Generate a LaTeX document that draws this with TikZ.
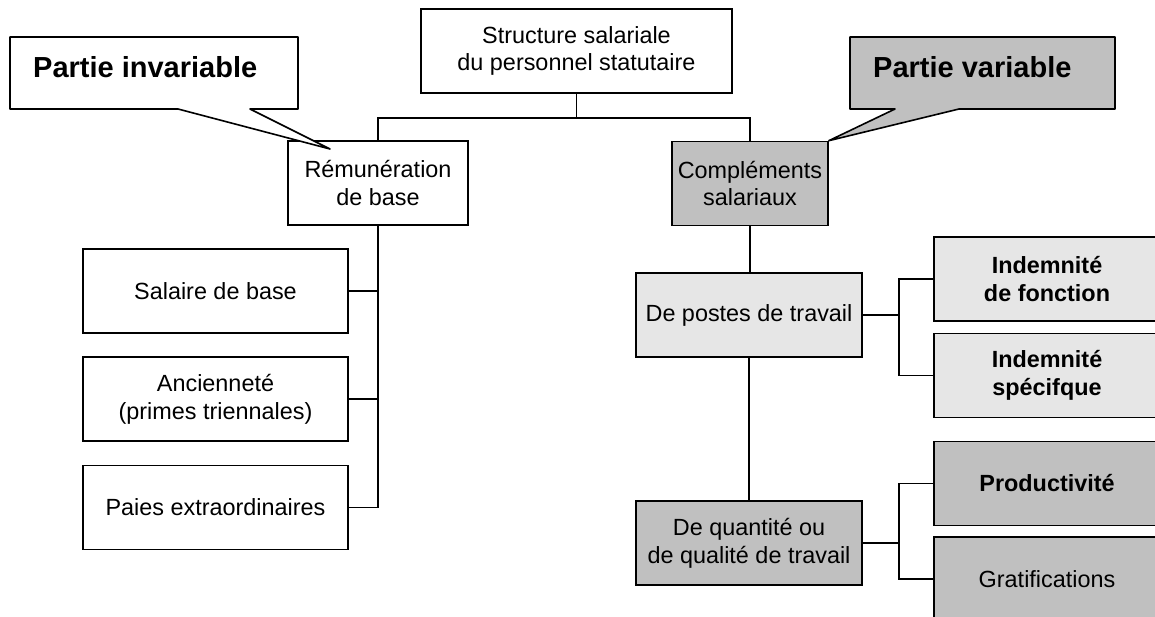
\documentclass[tikz,border=0pt]{standalone}
\usepackage{fontspec}
\setmainfont{Liberation Sans}
\usetikzlibrary{calc}
\definecolor{lgray}{HTML}{E6E6E6}
\definecolor{dgray}{HTML}{C0C0C0}
\begin{document}
\begin{tikzpicture}[x=1pt,y=-1pt,
  box/.style={draw, line width=1.6pt, rectangle, inner sep=0pt, align=center,
    font=\fontsize{23.4}{27.7}\selectfont, minimum height=84pt},
  wbox/.style={box, fill=white},
  lbox/.style={box, fill=lgray},
  dbox/.style={box, fill=dgray},
  bt/.style={font=\fontsize{23.4}{27.7}\selectfont\bfseries},
  link/.style={line width=1.6pt},
  stub/.style={line width=2.4pt},
  co/.style={draw, line width=1.6pt, line join=round},
  cotext/.style={font=\fontsize{29}{34}\selectfont\bfseries, anchor=base west, inner sep=0pt}]
\useasboundingbox (0,0) rectangle (1155,617);
\clip (0,0) rectangle (1155,617);

% top level
\node[wbox, minimum width=311pt] (top) at (576.5,51) {Structure salariale\\du personnel statutaire};
\node[wbox, minimum width=180pt] (rem) at (378,183) {Rémunération\\de base};
\node[dbox, minimum width=156pt] (comp) at (750,183.5) {Compléments\\salariaux};

% left column
\node[wbox, minimum width=265pt] (sal) at (215.5,291) {Salaire de base};
\node[wbox, minimum width=265pt] (anc) at (215.5,399) {Ancienneté\\(primes triennales)};
\node[wbox, minimum width=265pt] (pai) at (215.5,507.5) {Paies extraordinaires};

% right middle column
\node[lbox, minimum width=226pt] (pos) at (749,315) {De postes de travail};
\node[dbox, minimum width=226pt] (qua) at (749,543) {De quantité ou\\de qualité de travail};

% right column (clipped by the page edge)
\node[lbox, bt, minimum width=226pt] (fon) at (1047,279) {Indemnité\\de fonction};
\node[lbox, bt, minimum width=226pt] (spe) at (1047,375.5) {Indemnité\\spécifque};
\node[dbox, bt, minimum width=226pt] (pro) at (1047,483.5) {Productivité};
\node[dbox, minimum width=226pt] (gra) at (1047,579) {Gratifications};

% connectors
\coordinate (j0) at ($(top.south)+(0,24)$);
\draw[link] (top.south) -- (j0);
\draw[link] (rem.north) |- (j0) -| (comp.north);

\draw[link] (rem.south) |- (pai.east);
\draw[link] (sal.east) -- (sal.east -| rem.south);
\draw[link] (anc.east) -- (anc.east -| rem.south);

\draw[link] (comp.south) -- (comp.south |- pos.north);
\draw[link] (pos.south) -- (pos.south |- qua.north);

\coordinate (b1) at ($(pos.east)+(36,0)$);
\draw[stub] (pos.east) -- (b1);
\draw[link] (fon.west) -| (b1) |- (spe.west);

\coordinate (b2) at ($(qua.east)+(36,0)$);
\draw[stub] (qua.east) -- (b2);
\draw[link] (pro.west) -| (b2) |- (gra.west);

% callouts
\coordinate (invtip) at (330,149);
\filldraw[co, fill=white] (10,37) -- (298,37) -- (298,109) -- (250,109) -- (invtip)
  -- (178,109) -- (10,109) -- cycle;
\node[cotext] (inv) at (33,78) {Partie invariable};

\coordinate (vartip) at (comp.north east);
\filldraw[co, fill=dgray] (850,37) -- (1115,37) -- (1115,109) -- (959,109) -- (vartip)
  -- (895,109) -- (850,109) -- cycle;
\node[cotext] (var) at (873,78) {Partie variable};
\end{tikzpicture}
\end{document}
